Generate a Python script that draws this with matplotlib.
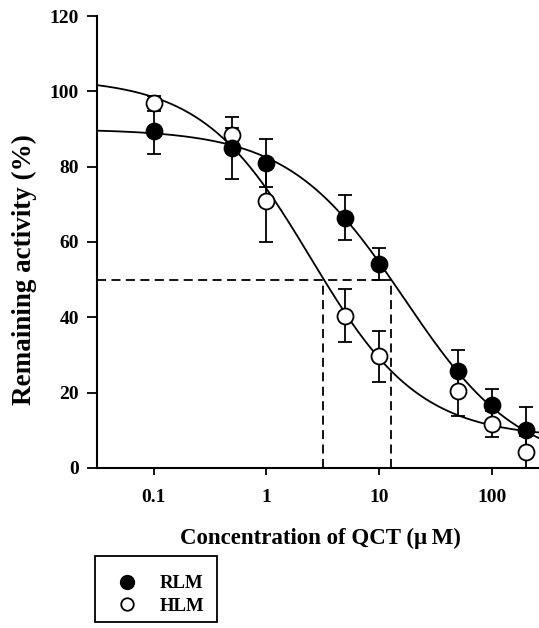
import matplotlib.pyplot as plt
import numpy as np
from matplotlib.lines import Line2D
from matplotlib.patches import Rectangle

plt.rcParams['font.family'] = ['Liberation Serif', 'DejaVu Serif']
plt.rcParams['font.weight'] = 'bold'

conc = [0.1, 0.5, 1, 5, 10, 50, 100, 200]
rlm = [89.5, 85.0, 81.0, 66.5, 54.1, 25.7, 16.6, 10.1]
rlm_err = [6.1, 8.3, 6.3, 6.0, 4.2, 5.6, 4.3, 6.2]
hlm = [96.8, 88.4, 71.0, 40.4, 29.6, 20.4, 11.7, 4.3]
hlm_err = [2.0, 2.0, 11.0, 7.0, 6.8, 6.6, 3.4, 4.3]

# 4PL fit parameters (top, bottom, IC50 param, hill)
rlm_fit = (90.0, 0.0, 16.6, 0.85)
hlm_fit = (103.5, 8.0, 2.47, 0.9)
ic50_rlm = 12.8
ic50_hlm = 3.2


def logistic(x, top, bottom, c, h):
    return bottom + (top - bottom) / (1 + (x / c) ** h)


fig = plt.figure(figsize=(5.39, 6.28), dpi=100)
ax = fig.add_axes([0.18, 0.2548, 0.83, 0.7197])

xs = np.logspace(np.log10(0.0316), np.log10(300), 400)
ax.plot(xs, logistic(xs, *rlm_fit), color='black', lw=1.3, zorder=2)
ax.plot(xs, logistic(xs, *hlm_fit), color='black', lw=1.3, zorder=2)

# IC50 guide lines
dash = dict(ls='--', color='black', lw=1.3, dashes=(5, 3), zorder=1)
ax.plot([0.0316, ic50_rlm], [50, 50], **dash)
ax.plot([ic50_rlm, ic50_rlm], [0, 50], **dash)
ax.plot([ic50_hlm, ic50_hlm], [0, 50], **dash)

ax.errorbar(conc, hlm, yerr=hlm_err, fmt='none', ecolor='black', elinewidth=1.3,
            capsize=5, capthick=1.3, zorder=3)
ax.errorbar(conc, rlm, yerr=rlm_err, fmt='none', ecolor='black', elinewidth=1.3,
            capsize=5, capthick=1.3, zorder=3)
ax.plot(conc, hlm, ls='none', marker='o', mfc='white', mec='black', ms=11.5,
        mew=1.3, zorder=4)
ax.plot(conc, rlm, ls='none', marker='o', mfc='black', mec='black', ms=11.5,
        mew=1.3, zorder=5)

ax.set_xscale('log')
ax.set_xlim(0.0316, 290)
ax.set_ylim(0, 120)
ax.set_yticks([0, 20, 40, 60, 80, 100, 120])
ax.set_xticks([0.1, 1, 10, 100])
ax.set_xticklabels(['0.1', '1', '10', '100'])
ax.xaxis.set_minor_locator(plt.NullLocator())
ax.tick_params(axis='y', direction='out', length=7, width=1.3, labelsize=14, pad=6)
ax.tick_params(axis='x', direction='out', length=5, width=1.3, labelsize=14, pad=10)
for s in ['top', 'right']:
    ax.spines[s].set_visible(False)
for s in ['left', 'bottom']:
    ax.spines[s].set_linewidth(1.5)

ax.set_ylabel('Remaining activity (%)', fontsize=19.5, fontweight='bold')
ax.yaxis.set_label_coords(-0.135, 0.44)
ax.set_xlabel('Concentration of QCT (\u03bc\u2009M)', fontsize=16.5, fontweight='bold', labelpad=16)

# legend box drawn separately
fig.patches.append(Rectangle((0.1763, 0.0096), 0.2263, 0.105, transform=fig.transFigure,
                             fill=False, edgecolor='black', lw=1.3))
handles = [Line2D([], [], ls='none', marker='o', ms=10, mfc='black', mec='black'),
           Line2D([], [], ls='none', marker='o', ms=9, mfc='white', mec='black', mew=1.3)]
fig.legend(handles, ['RLM', 'HLM'], loc='center left', bbox_to_anchor=(0.218, 0.0525),
           borderaxespad=0, frameon=False, fontsize=13.5, handletextpad=1.26,
           labelspacing=0.3, borderpad=0, handlelength=1.0)

fig.savefig('out.png', dpi=100)
